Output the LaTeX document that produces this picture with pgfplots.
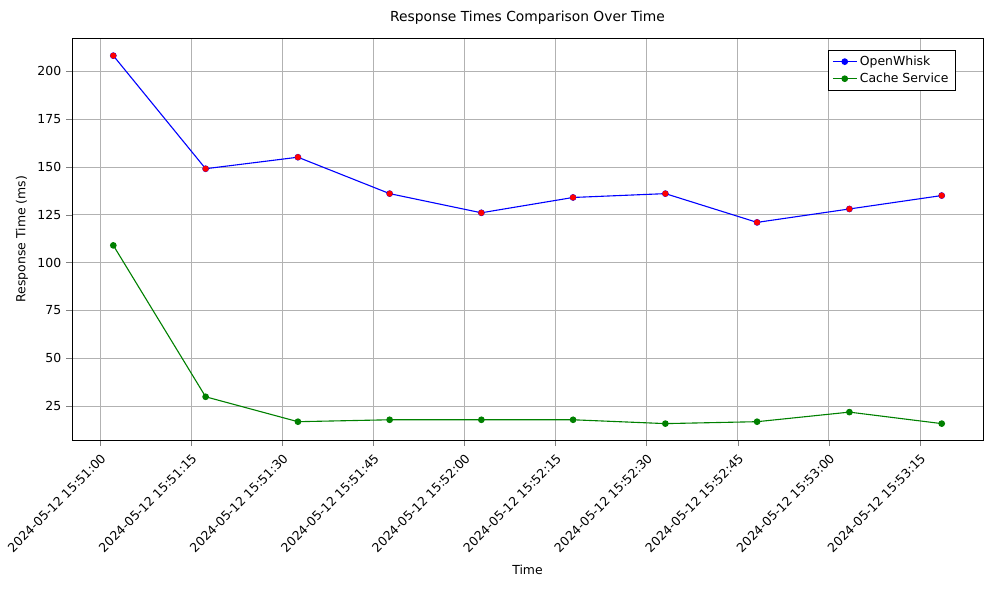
\documentclass[border=0pt]{standalone}
\usepackage{pgfplots}
\pgfplotsset{compat=1.18}
\usetikzlibrary{calc}
\usepackage{fontspec}
\setmainfont{DejaVu Sans}
\begin{document}
\begin{tikzpicture}[x=1pt,y=1pt]
\begin{axis}[scale only axis, width=659pt, height=291pt,
  xmin=-4.6, xmax=145.4, ymin=7.3, ymax=217.2,
  xtick={0,15,30,45,60,75,90,105,120,135},
  xticklabels={2024-05-12 15:51:00,2024-05-12 15:51:15,2024-05-12 15:51:30,2024-05-12 15:51:45,2024-05-12 15:52:00,2024-05-12 15:52:15,2024-05-12 15:52:30,2024-05-12 15:52:45,2024-05-12 15:53:00,2024-05-12 15:53:15},
  xticklabel style={rotate=45, anchor=north east, font=\small},
  ytick={25,50,75,100,125,150,175,200},
  yticklabel style={font=\small},
  /pgf/number format/assume math mode=true,
  grid=major, grid style={gray!60},
  tick align=outside, tick pos=left,
  xlabel={Time}, ylabel={Response Time (ms)},
  label style={font=\small},
  title={Response Times Comparison Over Time},
  legend pos=north east, legend style={font=\small, cells={anchor=west}},
]
\addplot[blue, thick, mark=*, mark options={fill=blue}] coordinates {
(2.2,208)(17.4,149)(32.6,155)(47.7,136)(62.8,126)(77.9,134)(93.1,136)(108.2,121)(123.4,128)(138.6,135)};
\addlegendentry{OpenWhisk}
\addplot[green!50!black, thick, mark=*, mark options={fill=green!50!black}] coordinates {
(2.2,109)(17.4,30)(32.6,17)(47.7,18)(62.8,18)(77.9,18)(93.1,16)(108.2,17)(123.4,22)(138.6,16)};
\addlegendentry{Cache Service}
\addplot[only marks, red, mark=*, mark options={fill=red}, forget plot] coordinates {
(2.2,208)(17.4,149)(32.6,155)(47.7,136)(62.8,126)(77.9,134)(93.1,136)(108.2,121)(123.4,128)(138.6,135)};
\end{axis}
\path[use as bounding box] ($(current axis.south west)+(-51.3pt,-114.9pt)$) rectangle ($(current axis.north east)+(12.3pt,27.5pt)$);
\end{tikzpicture}
\end{document}
